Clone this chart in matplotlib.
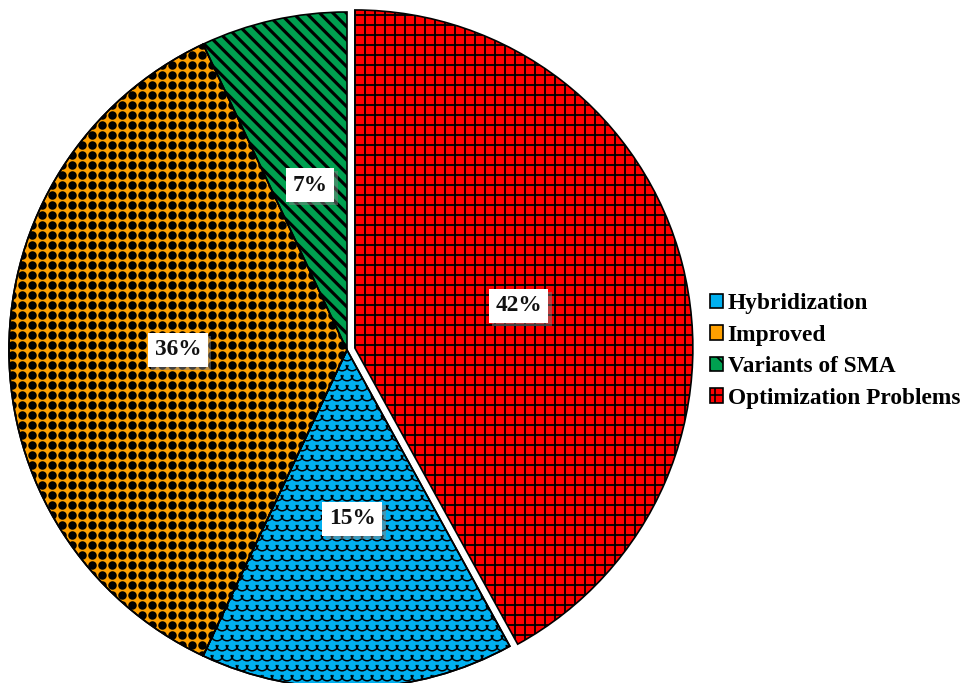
import numpy as np
import matplotlib
matplotlib.use('Agg')
import matplotlib.pyplot as plt
from matplotlib.patches import Wedge, Patch
from matplotlib.path import Path
import matplotlib.patheffects as pe

# share of studies per category (legend order)
categories = ['Hybridization', 'Improved', 'Variants of SMA', 'Optimization Problems']
shares = [15, 36, 7, 42]
colors = ['#00B0F0', '#FFA000', '#00A050', '#FF0000']

plt.rcParams['font.family'] = ['Liberation Serif', 'DejaVu Serif']
plt.rcParams['font.weight'] = 'bold'

DPI = 120
fig = plt.figure(figsize=(975 / DPI, 683 / DPI), dpi=DPI)
ax = fig.add_axes([0, 0, 1, 1])

# pie centre at (347, 350) px from top-left, radius 338 px -> 1 data unit
R = 338.0
cx, cy = 347.0, 350.0
ax.axis('off')

start = 90 - 360.0 * shares[-1] / sum(shares)
wedges, texts, autotexts = ax.pie(
    shares, colors=colors, startangle=start, counterclock=False,
    explode=[0, 0, 0, 0.024], radius=1.0, pctdistance=0.5,
    autopct=lambda p: '%d%%' % round(p),
    wedgeprops=dict(edgecolor='black', linewidth=1.0),
    textprops=dict(fontsize=14, fontweight='bold', color='#111111'))
ax.set_aspect('auto')
ax.set_xlim(-cx / R, (975 - cx) / R)
ax.set_ylim(-(683 - cy) / R, cy / R)

hb, im, va, op = wedges
op.set_hatch('++')
va.set_hatch('\\\\\\')
if hasattr(op, 'set_hatch_linewidth'):
    op.set_hatch_linewidth(1.1)
    va.set_hatch_linewidth(1.9)
else:
    plt.rcParams['hatch.linewidth'] = 1.3

step = 10.0 / R

# black dot texture on the "Improved" slice
gx, gy = np.meshgrid(np.arange(-1.05, 1.05, step), np.arange(-1.05, 1.05, step))
dots = ax.scatter(gx.ravel(), gy.ravel(), s=26, marker='o', color='black',
                  linewidths=0, zorder=2)
dots.set_clip_path(im)

# scale texture on the "Hybridization" slice
arc = Path.arc(180, 360)
ys = np.arange(-1.05, 1.05, step)
sx, sy = [], []
for k, y in enumerate(ys):
    xs = np.arange(-1.05, 1.05, step) + (step / 2 if k % 2 else 0)
    sx.extend(xs)
    sy.extend([y] * len(xs))
scales = ax.scatter(sx, sy, s=50, marker=arc, facecolors='none',
                    edgecolors='black', linewidths=0.9, zorder=2)
scales.set_clip_path(hb)

# outlines redrawn over the textures
for w in (hb, im):
    ax.add_patch(Wedge(w.center, w.r, w.theta1, w.theta2, fill=False,
                       edgecolor='black', linewidth=1.0, zorder=3))

for t in autotexts:
    t.set_zorder(5)
    t.set_bbox(dict(boxstyle='square,pad=0.28', facecolor='white',
                    edgecolor='none'))
    t.get_bbox_patch().set_path_effects(
        [pe.SimplePatchShadow(offset=(2, -2), shadow_rgbFace='gray', alpha=0.5),
         pe.Normal()])

handles = [Patch(facecolor=c, edgecolor='black', linewidth=1.0, hatch=h)
           for c, h in zip(colors, ['', '', '\\\\', '++'])]
fig.legend(handles, categories, loc='center left',
           bbox_to_anchor=(710 / 975, 1 - 351 / 683),
           frameon=False, handlelength=0.55, handleheight=0.55,
           handletextpad=0.2, labelspacing=0.45, borderpad=0, borderaxespad=0,
           prop=dict(family=['Liberation Serif'], weight='bold', size=14))

fig.savefig('out.png', dpi=DPI)
